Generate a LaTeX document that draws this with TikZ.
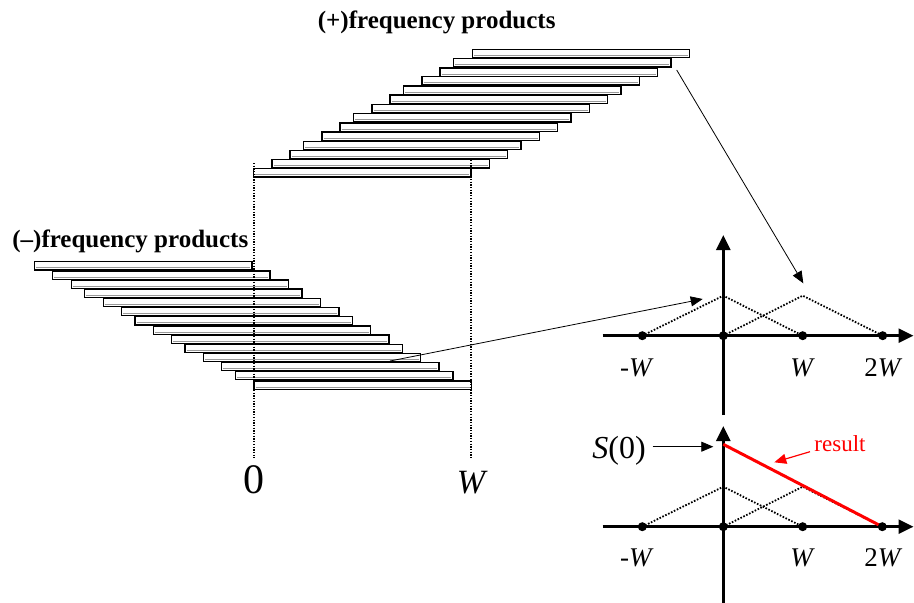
\documentclass[tikz,border=0pt]{standalone}
\usepackage{fontspec}
\setmainfont{Liberation Serif}
\usetikzlibrary{arrows.meta}
\definecolor{resred}{RGB}{255,0,0}
\begin{document}
\begin{tikzpicture}[x=1pt,y=-1pt,
  bar/.style={draw=black,line width=1.4pt,fill=white},
  barshade/.style={draw=black!40,line width=0.7pt},
  guide/.style={line width=1.3pt,dash pattern=on 1.3pt off 1.4pt},
  axisline/.style={line width=2.7pt,-{Triangle[length=15pt,width=14pt]}},
  tri/.style={line width=1.8pt,dash pattern=on 1.6pt off 1.6pt},
  dot/.style={circle,fill=black,inner sep=0pt,minimum size=9pt},
  conn/.style={line width=0.8pt,-{Triangle[length=12pt,width=10pt]}},
  redconn/.style={line width=1.2pt,draw=resred,-{Triangle[length=12pt,width=10pt]}},
  heading/.style={font=\bfseries\fontsize{25}{30}\selectfont,anchor=base,inner sep=0pt},
  axlabel/.style={font=\fontsize{27}{32}\selectfont,anchor=base,inner sep=0pt}]
\useasboundingbox (0,0) rectangle (914,603);

% (+) frequency stack
\foreach \x/\y in {472.3/49.3, 453.7/58.7, 440/68, 422/76.7, 403.7/86, 390/95, 372/104.3, 353.7/113.7, 340/123, 322/132, 303.7/141.3, 290/150.3, 272/159.7, 253.7/168.7} {
  \draw[bar] (\x,\y) rectangle ++(217.3,8.3);
  \draw[barshade] (\x+1.6,\y+6.0) -- ++(214.1,0);
}
% (-) frequency stack
\foreach \x/\y in {34.7/261.7, 52.7/271, 71.3/280, 84.7/289, 103.3/298.3, 121.7/307.3, 135/316.7, 153.3/326, 171.7/335, 185/344.3, 203.3/353.3, 221.7/362.3, 235.7/371.3, 254/381} {
  \draw[bar] (\x,\y) rectangle ++(217.3,8.3);
  \draw[barshade] (\x+1.6,\y+6.0) -- ++(214.1,0);
}

% guide lines
\coordinate (g0t) at (254,163); \coordinate (g0b) at (254,458);
\coordinate (gWt) at (471,160); \coordinate (gWb) at (471,458);
\draw[guide] (g0t) -- (g0b);
\draw[guide] (gWt) -- (gWb);

\node[heading] (plus) at (436.7,28.5) {(+)frequency products};
\node[heading] (minus) at (130.3,247.7) {(–)frequency products};
\node[font=\fontsize{42}{50}\selectfont,anchor=base,inner sep=0pt] (zero) at (254,493) {0};
\node[font=\fontsize{34}{40}\selectfont\itshape,anchor=base,inner sep=0pt] (wlab) at (471,493) {W};

% ---------- upper axes ----------
\coordinate (uvb) at (723.3,415); \coordinate (uvt) at (723.3,235);
\coordinate (uhl) at (602.7,335.7); \coordinate (uhr) at (913.5,335.7);
\draw[axisline] (uvb) -- (uvt);
\draw[axisline] (uhl) -- (uhr);
\coordinate (um) at (642.3,335.7);
\coordinate (u0) at (723.3,335.7);
\coordinate (uw) at (802.7,335.7);
\coordinate (u2w) at (882.7,335.7);
\coordinate (up1) at (723.3,295.7);
\coordinate (up2) at (802.7,295.7);
\draw[tri] (um) -- (up1) -- (uw);
\draw[tri] (u0) -- (up2) -- (u2w);
\foreach \c in {um,u0,uw,u2w} \node[dot] at (\c) {};
\node[axlabel] (ulm) at (637,376.7) {\textit{-W}};
\node[axlabel] (ulw) at (802.7,376.7) {\textit{W}};
\node[axlabel] (ul2w) at (883.5,376.7) {2\textit{W}};

% ---------- lower axes ----------
\coordinate (lvb) at (723.3,603); \coordinate (lvt) at (723.3,426);
\coordinate (lhl) at (602.7,526.7); \coordinate (lhr) at (913.5,526.7);
\draw[axisline] (lvb) -- (lvt);
\draw[axisline] (lhl) -- (lhr);
\coordinate (lm) at (642.3,526.7);
\coordinate (l0) at (723.3,526.7);
\coordinate (lw) at (802.7,526.7);
\coordinate (l2w) at (882.3,526.7);
\coordinate (lp1) at (723.3,486.7);
\coordinate (lp2) at (802.7,486.7);
\draw[tri] (lm) -- (lp1) -- (lw);
\draw[tri] (l0) -- (lp2) -- (l2w);
\coordinate (rtop) at (723.3,444.3);
\draw[line width=3pt,draw=resred] (rtop) -- (l2w);
\foreach \c in {lm,l0,lw,l2w} \node[dot] at (\c) {};
\node[axlabel] (llm) at (637,566) {\textit{-W}};
\node[axlabel] (llw) at (802.7,566) {\textit{W}};
\node[axlabel] (ll2w) at (883.5,566) {2\textit{W}};

\node[font=\fontsize{32}{38}\selectfont,anchor=base,inner sep=0pt] (S0) at (619,458) {\textit{S}(0)};
\coordinate (s0a) at (652.7,446.7); \coordinate (s0b) at (713.3,446.7);
\draw[conn] (s0a) -- (s0b);

\node[font=\fontsize{23}{28}\selectfont,text=resred,anchor=base,inner sep=0pt] (res) at (840,451.7) {result};
\coordinate (ra) at (810,451.7); \coordinate (rb) at (774.3,462.3);
\draw[redconn] (ra) -- (rb);

% connectors from stacks to spectra
\coordinate (pa) at (676.7,70); \coordinate (pb) at (803.3,283.3);
\coordinate (ma) at (390,361); \coordinate (mb) at (702.7,299);
\draw[conn] (pa) -- (pb);
\draw[conn] (ma) -- (mb);
\end{tikzpicture}
\end{document}
